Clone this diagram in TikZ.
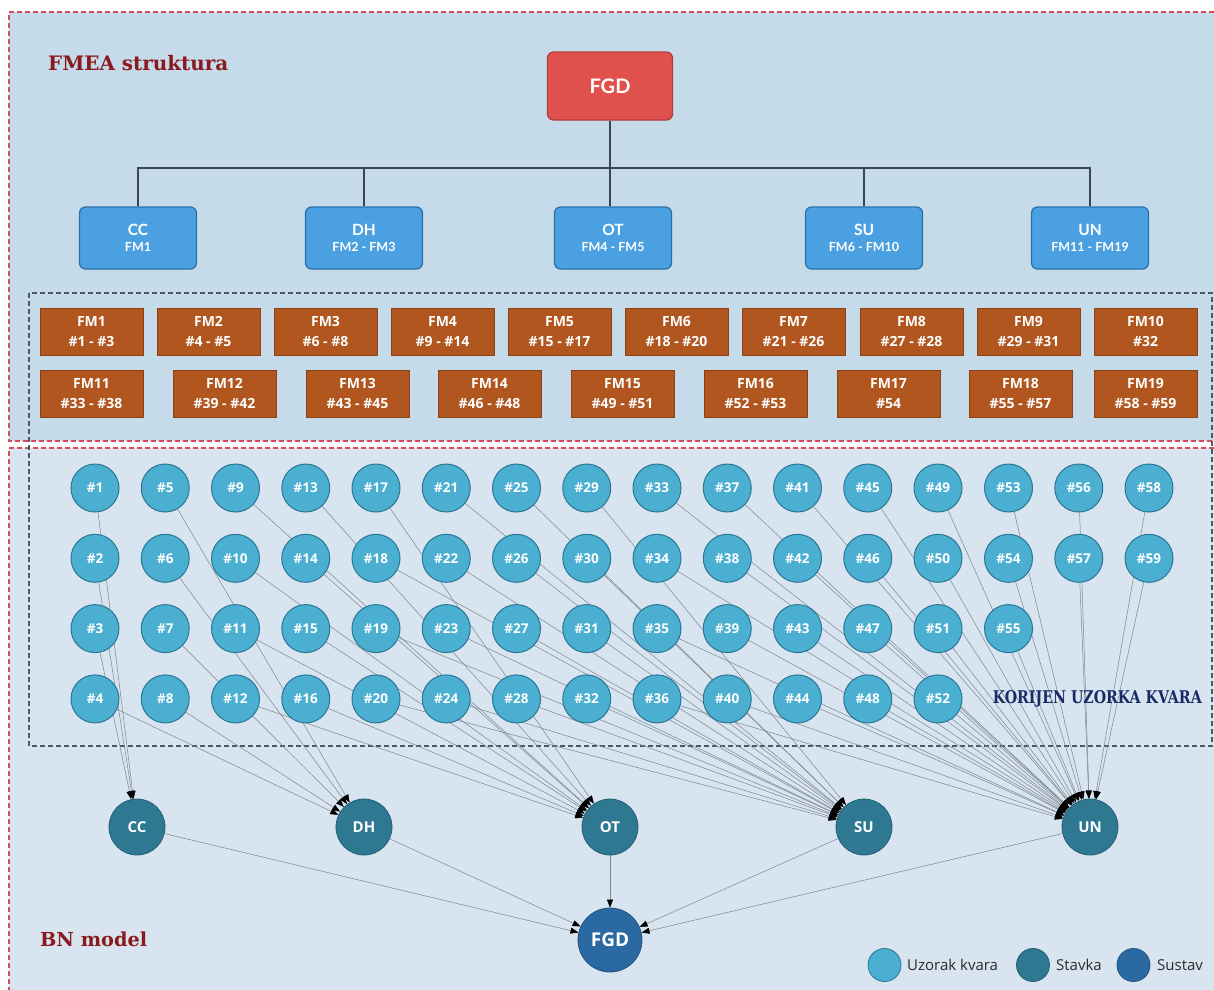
\documentclass[tikz,border=0pt]{standalone}
\usepackage{fontspec}
\setmainfont{Lato}
\newfontfamily\slabfont{DejaVu Serif}
\newfontfamily\osans{Open Sans}
\usetikzlibrary{arrows.meta}
\pgfdeclarelayer{bg}
\pgfdeclarelayer{edges}
\pgfsetlayers{bg,edges,main}
\definecolor{topF}{HTML}{C5DBEA}
\definecolor{botF}{HTML}{D8E4F0}
\definecolor{redDash}{HTML}{D94A5C}
\definecolor{grayDash}{HTML}{4B5966}
\definecolor{fgdF}{HTML}{E0504D}
\definecolor{fgdB}{HTML}{B53A3A}
\definecolor{cbF}{HTML}{4AA0E0}
\definecolor{cbB}{HTML}{2D6EA6}
\definecolor{fmF}{HTML}{B0561E}
\definecolor{fmB}{HTML}{8A4215}
\definecolor{rcF}{HTML}{4BAFD2}
\definecolor{rcB}{HTML}{2A7693}
\definecolor{itF}{HTML}{2E7892}
\definecolor{itB}{HTML}{245F75}
\definecolor{syF}{HTML}{2A69A2}
\definecolor{syB}{HTML}{20527F}
\definecolor{treeC}{HTML}{36475A}
\definecolor{edgeC}{HTML}{7C868F}
\definecolor{titleRed}{HTML}{8B1A1E}
\definecolor{titleNavy}{HTML}{172B66}
\definecolor{legText}{HTML}{2B2B2B}
\tikzset{
  rc/.style={circle, draw=rcB, fill=rcF, line width=1pt, minimum size=48pt, inner sep=0pt, text=white, font=\osans\bfseries\fontsize{13.5}{15}\selectfont},
  item/.style={circle, draw=itB, fill=itF, line width=0.8pt, minimum size=56pt, inner sep=0pt, text=white, font=\osans\bfseries\fontsize{15}{17}\selectfont},
  sys/.style={circle, draw=syB, fill=syF, line width=0.8pt, minimum size=64pt, inner sep=0pt, text=white, font=\osans\bfseries\fontsize{19}{21}\selectfont},
  fmbox/.style={rectangle, draw=fmB, fill=fmF, line width=0.8pt, minimum width=103pt, minimum height=47pt, inner sep=0pt, align=center, text=white, font=\osans\bfseries\fontsize{14}{19.5}\selectfont},
  compbox/.style={rectangle, rounded corners=6pt, draw=cbB, fill=cbF, line width=1.2pt, minimum width=117pt, minimum height=62pt, inner sep=0pt, align=center, text=white, font=\bfseries\fontsize{15.5}{20}\selectfont},
  topbox/.style={rectangle, rounded corners=6pt, draw=fgdB, fill=fgdF, line width=1.2pt, minimum width=125pt, minimum height=68pt, inner sep=0pt, text=white, font=\bfseries\fontsize{20}{22}\selectfont},
  tree/.style={draw=treeC, line width=2pt},
  edge/.style={draw=edgeC, line width=0.5pt, -{Triangle[length=8pt,width=6pt,color=black]}},
  regionbox/.style={draw=redDash, line width=1.2pt, dash pattern=on 5pt off 3pt},
  legc/.style={circle, line width=0.8pt, minimum size=33pt, inner sep=0pt},
  legt/.style={anchor=west, inner sep=0pt, text=legText, font=\osans\fontsize{15}{17}\selectfont}
}
\begin{document}
\begin{tikzpicture}[x=1pt,y=-1pt]
\useasboundingbox (0,0) rectangle (1214,989);
\clip (0,0) rectangle (1214,989);
\begin{pgfonlayer}{bg}
  \fill[white] (0,0) rectangle (1214,989);
  \fill[topF] (9,12) rectangle (1230,441);
  \fill[botF] (9,448) rectangle (1230,1010);
  \draw[regionbox] (1230,12) -- (9,12) -- (9,441) -- (1230,441);
  \draw[regionbox] (1230,448) -- (9,448) -- (9,1010);
  \draw[draw=grayDash, line width=1.5pt, dash pattern=on 5pt off 3pt] (29,293) rectangle (1212,746);
\end{pgfonlayer}

% titles
\node[anchor=base west, inner sep=0pt, text=titleRed] (t1) at (48,70) {\resizebox{180pt}{!}{\slabfont\bfseries FMEA struktura}};
\node[anchor=base west, inner sep=0pt, text=titleRed] (t2) at (40,946) {\resizebox{107pt}{!}{\slabfont\bfseries BN model}};
\node[anchor=base east, inner sep=0pt, text=titleNavy] (t3) at (1202,703) {\resizebox{209pt}{13pt}{\slabfont\bfseries KORIJEN UZORKA KVARA}};

% FMEA tree
\node[topbox] (tFGD) at (610,86) {FGD};
\node[compbox] (cCC) at (138,238) {CC\\[-4pt]{\fontsize{12.5}{14}\selectfont FM1}};
\node[compbox] (cDH) at (364,238) {DH\\[-4pt]{\fontsize{12.5}{14}\selectfont FM2 - FM3}};
\node[compbox] (cOT) at (613,238) {OT\\[-4pt]{\fontsize{12.5}{14}\selectfont FM4 - FM5}};
\node[compbox] (cSU) at (864,238) {SU\\[-4pt]{\fontsize{12.5}{14}\selectfont FM6 - FM10}};
\node[compbox] (cUN) at (1090,238) {UN\\[-4pt]{\fontsize{12.5}{14}\selectfont FM11 - FM19}};
\coordinate (j) at (610,168);
\draw[tree] (tFGD.south) -- (j);
\draw[tree] (cCC.north) |- (j);
\draw[tree] (cDH.north) |- (j);
\draw[tree] (cSU.north) |- (j);
\draw[tree] (cUN.north) |- (j);
\draw[tree] (j) -- (j |- cOT.north);

% failure mode boxes
\node[fmbox] (fm1) at (91.5,331.5) {FM1\\\#1 - \#3};
\node[fmbox] (fm2) at (208.5,331.5) {FM2\\\#4 - \#5};
\node[fmbox] (fm3) at (325.5,331.5) {FM3\\\#6 - \#8};
\node[fmbox] (fm4) at (442.5,331.5) {FM4\\\#9 - \#14};
\node[fmbox] (fm5) at (559.5,331.5) {FM5\\\#15 - \#17};
\node[fmbox] (fm6) at (676.5,331.5) {FM6\\\#18 - \#20};
\node[fmbox] (fm7) at (793.5,331.5) {FM7\\\#21 - \#26};
\node[fmbox] (fm8) at (911.5,331.5) {FM8\\\#27 - \#28};
\node[fmbox] (fm9) at (1028.5,331.5) {FM9\\\#29 - \#31};
\node[fmbox] (fm10) at (1145.5,331.5) {FM10\\\#32};
\node[fmbox] (fm11) at (91.5,393.5) {FM11\\\#33 - \#38};
\node[fmbox] (fm12) at (224.5,393.5) {FM12\\\#39 - \#42};
\node[fmbox] (fm13) at (357.5,393.5) {FM13\\\#43 - \#45};
\node[fmbox] (fm14) at (489.5,393.5) {FM14\\\#46 - \#48};
\node[fmbox] (fm15) at (622.5,393.5) {FM15\\\#49 - \#51};
\node[fmbox] (fm16) at (755.5,393.5) {FM16\\\#52 - \#53};
\node[fmbox] (fm17) at (888.5,393.5) {FM17\\\#54};
\node[fmbox] (fm18) at (1020.5,393.5) {FM18\\\#55 - \#57};
\node[fmbox] (fm19) at (1145.5,393.5) {FM19\\\#58 - \#59};

% root cause circles
\foreach \c in {0,...,12} {
  \foreach \r in {0,...,3} {
    \pgfmathtruncatemacro{\n}{4*\c+\r+1}
    \node[rc] (r\n) at ({95+70.25*\c},{488+70.3*\r}) {\#\n};
  }
}
\node[rc] (r53) at (1008.5,488) {\#53};
\node[rc] (r54) at (1008.5,558.3) {\#54};
\node[rc] (r55) at (1008.5,628.6) {\#55};
\node[rc] (r56) at (1078.8,488) {\#56};
\node[rc] (r57) at (1078.8,558.3) {\#57};
\node[rc] (r58) at (1149,488) {\#58};
\node[rc] (r59) at (1149,558.3) {\#59};

% BN items and system
\node[item] (iCC) at (137,827) {CC};
\node[item] (iDH) at (364,827) {DH};
\node[item] (iOT) at (610,827) {OT};
\node[item] (iSU) at (864,827) {SU};
\node[item] (iUN) at (1090,827) {UN};
\node[sys] (sFGD) at (610,940) {FGD};

\begin{pgfonlayer}{edges}
  \foreach \n in {1,...,3} \draw[edge] (r\n) -- (iCC);
  \foreach \n in {4,...,8} \draw[edge] (r\n) -- (iDH);
  \foreach \n in {9,...,17} \draw[edge] (r\n) -- (iOT);
  \foreach \n in {18,...,32} \draw[edge] (r\n) -- (iSU);
  \foreach \n in {33,...,59} \draw[edge] (r\n) -- (iUN);
  \foreach \i in {iCC,iDH,iOT,iSU,iUN} \draw[edge] (\i) -- (sFGD);
\end{pgfonlayer}

% legend
\node[legc, fill=rcF, draw=rcB] (lg1) at (884.5,965) {};
\node[legt] (lt1) at (907,965) {Uzorak kvara};
\node[legc, fill=itF, draw=itB] (lg2) at (1033,965) {};
\node[legt] (lt2) at (1056,965) {Stavka};
\node[legc, fill=syF, draw=syB] (lg3) at (1133.5,965) {};
\node[legt] (lt3) at (1157,965) {Sustav};
\end{tikzpicture}
\end{document}
